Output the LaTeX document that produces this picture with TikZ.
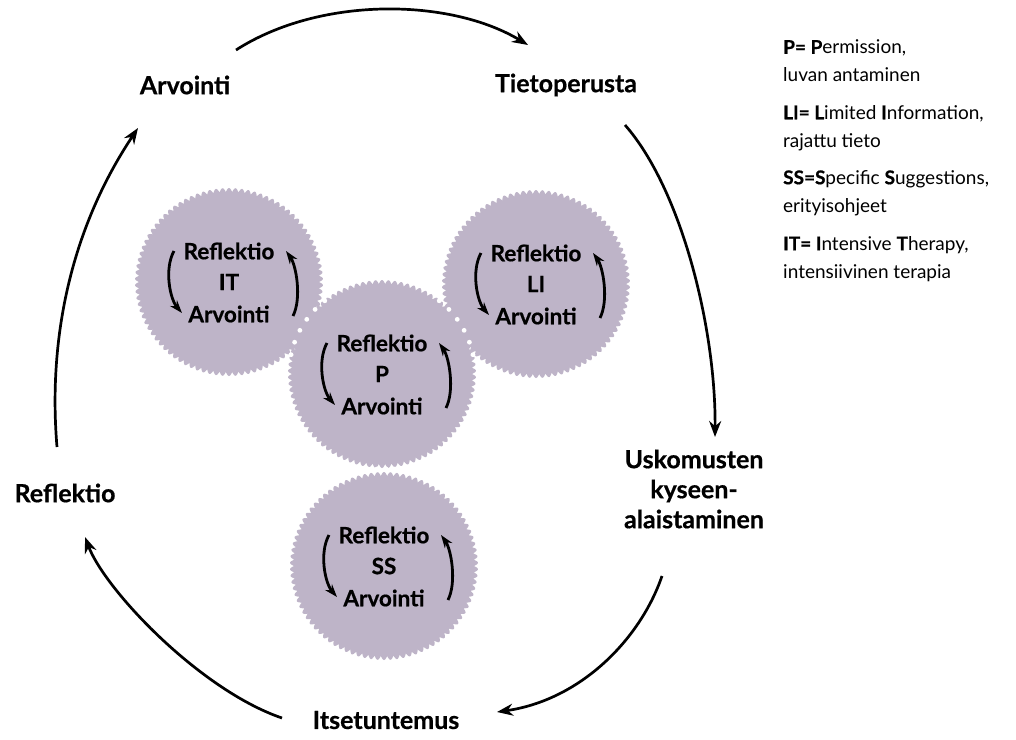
\documentclass[tikz,border=0pt]{standalone}
\usepackage{fontspec}
\setmainfont{Lato}[BoldFeatures={FakeBold=0.6}]
\usetikzlibrary{arrows.meta,calc}
\definecolor{bub}{RGB}{190,180,200}
\newcommand\bubblefill[2]{\fill[bub] plot[domain=0:360,samples=901] ({#1+(90+4*abs(sin(45*\x)))*cos(\x)},{#2+(90+4*abs(sin(45*\x)))*sin(\x)}) -- cycle;}
\begin{document}
\begin{tikzpicture}[x=1pt,y=-1pt,
  lbl/.style={font=\bfseries\fontsize{25}{30}\selectfont, inner sep=0pt, align=center},
  inn/.style={font=\bfseries\fontsize{22.5}{24}\selectfont, inner sep=0pt},
  bubnode/.style={circle, minimum size=188pt, inner sep=0pt},
  bigarrow/.style={line width=2.7pt, -{Stealth[length=16pt,width=12pt]}},
  smallarrow/.style={line width=2.8pt, -{Stealth[length=13pt,width=9pt]}},
  leg/.style={font=\fontsize{19}{28}\selectfont, anchor=west, inner sep=0pt, align=left},
  seam/.style={fill=white}]
\useasboundingbox (0,0) rectangle (1016,739);
\fill[white] (0,0) rectangle (1016,739);

% bubbles
\bubblefill{229}{282}
\bubblefill{536}{284}
\bubblefill{384}{566}
\bubblefill{382}{374}
\foreach \a in {192,200,...,232} \fill[seam] (382,374) ++(\a:93) circle (2.4);
\foreach \a in {308,316,...,348} \fill[seam] (382,374) ++(\a:93) circle (2.4);
\foreach \xx in {350,359,...,416} \fill[seam] (\xx,469) circle (2.4);

\node[bubnode] (it) at (229,282) {};
\node[bubnode] (li) at (536,284) {};
\node[bubnode] (p)  at (382,374) {};
\node[bubnode] (ss) at (384,566) {};

\foreach \n/\t in {it/IT, li/LI, p/P, ss/SS}{
  \node[inn] (\n R) at ($(\n)+(0,-31)$) {Reflektio};
  \node[inn] (\n L) at ($(\n)+(0,0)$) {\t};
  \node[inn] (\n A) at ($(\n)+(0,32)$) {Arvointi};
  \draw[smallarrow] ($(\n)+(-55,-31)$) .. controls +(-10,18) and +(-12,-14) .. ($(\n)+(-47,31)$);
  \draw[smallarrow] ($(\n)+(64,34)$) .. controls +(9,-18) and +(10,14) .. ($(\n)+(57,-31)$);
}

% outer labels
\node[lbl] (arv) at (185,85) {Arvointi};
\node[lbl] (tie) at (566,85) {Tietoperusta};
\node[lbl] (usk) at (694,489) {Uskomusten\\kyseen-\\alaistaminen};
\node[lbl] (its) at (386,720) {Itsetuntemus};
\node[lbl] (ref) at (65,493) {Reflektio};

% outer cycle arrows
\draw[bigarrow] ([shift={(51,-35)}]arv.center) .. controls (320,-4) and (450,-2) .. ([shift={(-38,-40)}]tie.center);
\draw[bigarrow] ([shift={(59,40)}]tie.center) .. controls (682,190) and (716,330) .. ([shift={(21,-52)}]usk.center);
\draw[bigarrow] ([shift={(-32,87)}]usk.center) .. controls (640,640) and (580,700) .. ([shift={(111,-8)}]its.center);
\draw[bigarrow] ([shift={(-104,-2)}]its.center) .. controls (200,690) and (105,590) .. ([shift={(20,44)}]ref.center);
\draw[bigarrow] ([shift={(-8,-46)}]ref.center) .. controls (48,340) and (70,230) .. ([shift={(-47,43)}]arv.center);

% legend
\node[leg] (lp)  at (783,61)  {\textbf{P= P}ermission,\\luvan antaminen};
\node[leg] (lli) at (783,128) {\textbf{LI= L}imited \textbf{I}nformation,\\rajattu tieto};
\node[leg] (lss) at (783,193) {\textbf{SS=S}pecific \textbf{S}uggestions,\\erityisohjeet};
\node[leg] (lit) at (783,259) {\textbf{IT= I}ntensive \textbf{T}herapy,\\intensiivinen terapia};
\end{tikzpicture}
\end{document}
